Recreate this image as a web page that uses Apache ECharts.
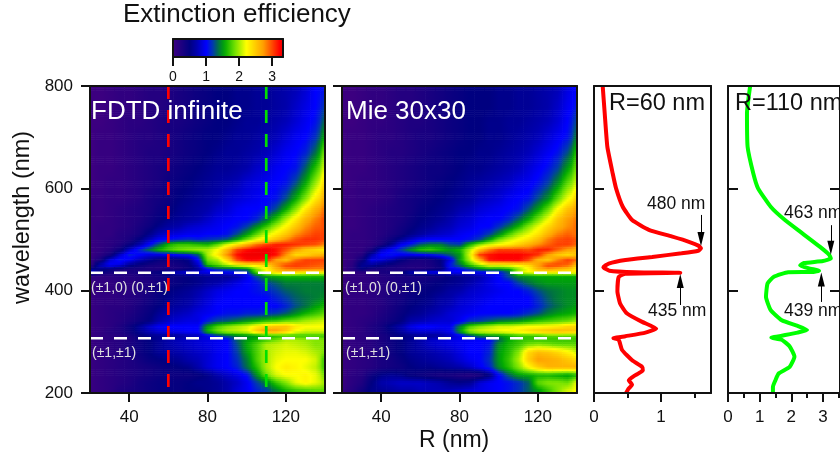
<!DOCTYPE html>
<html><head><meta charset="utf-8">
<style>html,body{margin:0;padding:0;background:#fff;overflow:hidden}#c{width:840px;height:459px}</style>
<script src="https://cdn.jsdelivr.net/npm/echarts@6/dist/echarts.min.js"></script></head>
<body><div id="c"></div>
<script>
const radii=[20,25,30,35,40,45,50,55,60,65,70,75,80,85,90,95,100,105,110,115,120,125,130,135,140];
const wavelengths=[790,760,730,700,670,640,610,580,560,540,525,510,500,490,480,470,460,450,442,436,428,415,400,385,370,355,340,330,320,312,304,295,280,265,250,235,220,205];
const fdtdRows=[
[0,0,.05,.1,.1,.15,.2,.2,.25,.3,.35,.4,.45,.5,.5,.55,.55,.6,.6,.65,.7,.75,.85,1,1.05],
[0,0,.05,.1,.1,.15,.2,.2,.25,.3,.35,.4,.45,.5,.5,.55,.55,.6,.6,.65,.7,.8,.9,1,1.15],
[0,0,.05,.1,.15,.15,.2,.25,.3,.3,.35,.4,.45,.5,.5,.55,.6,.6,.65,.7,.75,.85,.95,1.05,1.3],
[0,.05,.05,.1,.15,.2,.2,.25,.3,.35,.4,.45,.5,.5,.55,.6,.6,.65,.7,.75,.85,.95,1,1.15,1.5],
[0,.05,.05,.1,.15,.2,.25,.25,.3,.35,.4,.45,.5,.55,.6,.6,.65,.7,.75,.85,.95,1,1.1,1.35,1.8],
[0,.05,.05,.1,.15,.2,.25,.3,.35,.4,.45,.5,.55,.6,.6,.65,.7,.8,.85,.95,1,1.05,1.3,1.65,2.05],
[0,.05,.1,.1,.15,.2,.25,.3,.4,.45,.5,.55,.6,.65,.7,.75,.85,.9,.95,1,1.05,1.25,1.55,1.95,2.35],
[.05,.05,.1,.1,.15,.2,.3,.35,.4,.5,.55,.6,.65,.7,.8,.85,.9,.95,1,1.05,1.25,1.55,1.9,2.3,2.6],
[.05,.05,.1,.15,.2,.25,.3,.4,.45,.55,.6,.65,.7,.8,.85,.95,1,1,1.05,1.25,1.55,1.9,2.3,2.6,2.8],
[.05,.05,.1,.15,.2,.25,.35,.45,.55,.6,.65,.7,.8,.9,.95,1,1,1.1,1.35,1.65,2,2.3,2.6,2.8,2.95],
[.05,.1,.1,.15,.2,.3,.4,.55,.65,.7,.8,.85,.9,.95,1,1.05,1.2,1.45,1.7,2,2.25,2.5,2.75,2.9,2.95],
[.05,.1,.1,.2,.25,.35,.55,.75,.85,.9,.95,.95,1,1,1.05,1.25,1.5,1.8,2.1,2.3,2.5,2.75,2.9,3,3],
[.05,.1,.15,.2,.3,.5,.75,.95,1.05,1.1,1.15,1.1,1.15,1.2,1.3,1.55,1.85,2.15,2.35,2.55,2.75,2.95,3.05,3.05,3],
[.05,.1,.15,.25,.45,.7,1,1.3,1.6,1.7,1.7,1.65,1.6,1.8,2.1,2.35,2.6,2.85,3,3.1,3.1,3.05,3,2.95,2.8],
[.05,.1,.2,.4,.8,1.1,1.35,1.6,1.75,1.85,1.9,1.95,2,2.2,2.6,3,3.15,3.25,3.3,3.15,2.95,2.7,2.5,2.4,2.3],
[.05,.15,.35,.8,1.1,1,.9,.9,.95,1.05,1.1,1.3,2,2.3,2.75,3.15,3.3,3.3,3.3,3.15,2.75,2.4,2.45,2.55,2.6],
[.1,.3,.85,1.05,.95,.75,.6,.45,.4,.45,.55,1,1.85,2,2.45,3,3.2,3.2,3.1,2.7,2.55,2.85,3,3,3],
[.2,.75,1,.9,.6,.45,.35,.3,.3,.35,.45,.8,1.65,1.8,2,2.2,2.3,2.35,2.4,2.75,3,3.05,3,2.95,2.9],
[.55,.55,.45,.35,.3,.3,.25,.25,.25,.3,.4,.6,1,1.2,1.25,1.3,1.4,1.9,2.2,2.6,2.8,2.85,2.85,2.8,2.8],
[.9,.5,.35,.3,.3,.35,.4,.5,.75,.85,.9,.9,.95,1,1,1.05,1.15,1.8,2.2,2.4,2.5,2.4,2.3,2.3,2.3],
[.1,.1,.15,.2,.2,.25,.3,.35,.4,.45,.5,.55,.6,.6,.6,.7,.9,1.25,1.5,1.55,1.6,1.6,1.6,1.6,1.6],
[.05,.1,.1,.15,.15,.2,.25,.35,.4,.45,.5,.55,.65,.7,.8,.9,1,1.05,1.2,1.3,1.4,1.4,1.4,1.4,1.4],
[.05,.1,.1,.15,.15,.25,.3,.4,.5,.55,.6,.7,.8,.9,.95,1,1,1.05,1.1,1.2,1.3,1.35,1.4,1.4,1.4],
[.05,.1,.1,.15,.2,.25,.35,.45,.55,.6,.65,.75,.85,.95,1,1,1,1,1,1.1,1.2,1.3,1.35,1.4,1.45],
[.05,.1,.15,.15,.2,.3,.4,.5,.6,.65,.7,.8,.9,1,1,1,1,1,1,1,1.1,1.25,1.35,1.5,1.6],
[.05,.1,.15,.2,.25,.35,.45,.6,.7,.75,.8,.9,.95,1,1.05,1.05,1.1,1.1,1.15,1.2,1.3,1.45,1.6,1.7,1.8],
[.05,.1,.15,.2,.3,.4,.5,.7,.8,.85,.9,.9,1.1,1.25,1.3,1.4,1.5,1.6,1.7,1.75,1.85,1.9,2,2.05,2.1],
[.05,.1,.15,.25,.4,.6,.8,.95,1,1,1,1,1.5,1.75,1.9,2,2.1,2.3,2.45,2.5,2.5,2.3,2.2,2.2,2.2],
[.05,.1,.2,.25,.4,.6,.75,.85,.9,.95,1,1,1.6,1.85,2,2.05,2.15,2.5,2.75,2.7,2.5,2.2,2.1,2.1,2.1],
[.05,.1,.15,.2,.3,.45,.55,.6,.6,.65,.7,.75,.95,1.15,1.3,1.4,1.45,1.5,1.6,1.65,1.7,1.7,1.7,1.7,1.7],
[.05,.1,.15,.2,.25,.4,.5,.6,.7,.75,.8,.85,.9,.95,1,1.3,1.5,1.6,1.7,1.85,2,2,1.95,1.9,1.9],
[.05,.1,.15,.2,.3,.4,.5,.6,.7,.75,.8,.85,.9,.95,1,1.25,1.55,1.75,2,2.05,2.1,2.05,2,1.9,1.9],
[.05,.1,.15,.2,.3,.4,.5,.6,.65,.7,.75,.8,.85,.95,1,1.2,1.5,1.75,2,2.1,2.15,2.15,2.1,2,1.9],
[.05,.1,.15,.2,.25,.35,.45,.5,.55,.6,.7,.75,.85,.95,1,1.15,1.4,1.75,2,2.15,2.2,2.2,2.2,2.1,1.75],
[.05,.1,.15,.2,.25,.3,.35,.4,.45,.5,.55,.7,.85,.95,1,1.1,1.35,1.65,2,2.2,2.3,2.25,2.15,2.05,1.75],
[.05,.1,.15,.2,.25,.3,.35,.4,.4,.4,.4,.45,.55,.7,.8,.9,1.05,1.45,1.85,2.1,2.2,2.2,2.25,2.15,1.9],
[.05,.1,.15,.2,.25,.35,.4,.45,.45,.45,.5,.55,.55,.6,.7,.8,.95,1.2,1.4,1.7,1.9,2.15,2.25,2.15,2],
[.05,.1,.15,.25,.3,.35,.4,.45,.45,.45,.5,.5,.55,.6,.7,.85,.95,1.1,1.2,1.4,1.6,1.7,1.75,1.8,1.8]
];
const mieRows=[
[0,0,.05,.1,.1,.15,.2,.2,.25,.3,.35,.4,.45,.5,.5,.5,.55,.55,.6,.6,.65,.7,.75,.9,1],
[0,0,.05,.1,.1,.15,.2,.2,.25,.3,.35,.4,.45,.5,.5,.5,.55,.55,.6,.6,.65,.7,.8,.95,1.05],
[0,0,.05,.1,.1,.15,.2,.25,.25,.3,.35,.4,.45,.5,.5,.55,.55,.6,.6,.65,.7,.75,.85,1,1.2],
[0,.05,.05,.1,.15,.15,.2,.25,.3,.3,.35,.4,.45,.5,.5,.55,.55,.6,.65,.7,.75,.85,.95,1.05,1.35],
[0,.05,.05,.1,.15,.2,.2,.25,.3,.35,.4,.45,.5,.5,.55,.55,.6,.65,.7,.75,.85,.95,1.05,1.25,1.6],
[0,.05,.05,.1,.15,.2,.25,.3,.35,.4,.4,.45,.5,.55,.55,.6,.65,.7,.75,.85,.95,1.05,1.2,1.5,1.8],
[0,.05,.1,.1,.15,.2,.25,.3,.35,.4,.45,.5,.55,.6,.65,.7,.75,.8,.9,.95,1.05,1.2,1.45,1.8,2.05],
[.05,.05,.1,.1,.15,.2,.3,.35,.4,.45,.5,.55,.6,.65,.75,.8,.85,.95,1,1.05,1.25,1.45,1.8,2.15,2.4],
[.05,.05,.1,.15,.2,.25,.3,.35,.45,.5,.55,.6,.7,.75,.85,.9,.95,1,1.05,1.25,1.5,1.8,2.2,2.5,2.65],
[.05,.05,.1,.15,.2,.25,.3,.4,.5,.55,.6,.7,.8,.85,.95,1,1,1.1,1.3,1.55,1.85,2.15,2.5,2.7,2.8],
[.05,.05,.1,.15,.2,.25,.35,.45,.55,.6,.7,.75,.85,.9,1,1,1.15,1.35,1.6,1.9,2.15,2.4,2.6,2.75,2.85],
[.05,.1,.1,.15,.2,.3,.4,.55,.65,.75,.8,.85,.95,1,1.05,1.2,1.45,1.75,2,2.15,2.35,2.6,2.8,2.9,2.85],
[.05,.1,.1,.15,.25,.4,.6,.8,.95,1,1,1,1,1.05,1.2,1.5,1.85,2.05,2.2,2.35,2.55,2.8,2.95,3,2.95],
[.05,.1,.1,.15,.3,.6,.95,1.1,1.3,1.4,1.4,1.25,1.2,1.6,1.9,2.1,2.2,2.3,2.45,2.6,2.75,2.9,3,3,2.9],
[.05,.1,.1,.3,.8,1,1.2,1.45,1.65,1.7,1.6,1.5,1.6,2,2.5,2.8,3,3,3,2.95,3.1,3.1,2.9,2.7,2.6],
[.05,.1,.2,.7,1,1.05,.95,.95,1,1.05,1.15,1.3,1.5,2.1,3,3.15,3.2,3.2,3.2,3.15,3.05,2.7,2.5,2.4,2.5],
[.05,.1,.4,.9,.85,.7,.5,.35,.3,.35,.5,.9,1.5,2,2.6,3.15,3.2,3.2,3.2,3,2.6,2.5,2.8,3,2.9],
[.05,.15,.6,.65,.5,.4,.3,.25,.25,.3,.45,1.1,1.35,1.7,1.95,2.2,2.2,2.25,2.3,2.4,2.7,3,3,2.9,2.6],
[.05,.2,.5,.3,.3,.25,.25,.2,.2,.3,.4,.9,1,1.2,1.4,1.5,1.5,1.6,1.9,2.2,2.6,2.7,2.6,2.5,2.3],
[.05,.1,.15,.2,.3,.35,.4,.8,.9,1,1,1,1,1,1,1,1.05,1.3,2.1,2.2,2.3,2.3,2.3,2.3,2.3],
[.05,.1,.1,.15,.2,.25,.3,.3,.3,.35,.4,.5,.55,.6,.7,.85,1,1.25,1.45,1.5,1.55,1.55,1.55,1.55,1.55],
[.05,.1,.1,.15,.2,.25,.3,.35,.4,.45,.5,.55,.6,.7,.8,.9,1,1,1.2,1.35,1.45,1.5,1.5,1.5,1.5],
[.05,.1,.1,.15,.2,.25,.3,.4,.45,.5,.55,.65,.7,.8,.85,.9,.95,1,1,1.1,1.25,1.35,1.4,1.45,1.45],
[.05,.1,.1,.15,.2,.3,.35,.45,.5,.55,.65,.7,.8,.85,.9,.95,1,1,1,1,1.15,1.3,1.4,1.45,1.45],
[.05,.1,.1,.15,.2,.3,.4,.5,.55,.6,.7,.75,.85,.9,.95,1,1,1,1,1,1.1,1.25,1.35,1.45,1.5],
[.05,.1,.1,.15,.25,.35,.45,.55,.6,.7,.75,.85,.9,.95,1,1,1,1,1.05,1.15,1.25,1.4,1.5,1.55,1.6],
[.05,.1,.15,.2,.3,.4,.5,.7,.75,.8,.85,.85,.95,1.15,1.2,1.3,1.4,1.45,1.5,1.6,1.7,1.75,1.8,1.85,1.95],
[.05,.1,.15,.25,.35,.55,.7,.9,1,1,.95,.95,1.4,1.75,1.9,2,2.1,2.1,2.15,2.2,2.2,2.25,2.3,2.4,2.4],
[.05,.1,.15,.25,.35,.5,.65,.8,.85,.85,.85,.95,1.5,1.95,2.1,2.15,2.2,2.25,2.3,2.4,2.5,2.55,2.6,2.55,2.5],
[.05,.1,.15,.2,.3,.4,.5,.55,.6,.6,.65,.75,.95,1.2,1.4,1.5,1.5,1.6,1.7,1.7,1.7,1.8,1.8,1.8,1.8],
[.05,.1,.15,.2,.3,.4,.5,.6,.7,.8,.85,.9,.95,.95,1,1,1.3,1.55,1.65,1.7,1.7,1.7,1.7,1.7,1.7],
[.05,.1,.15,.2,.3,.4,.5,.6,.7,.8,.85,.9,.95,1,1,1.05,1.45,1.6,1.7,1.85,1.9,1.85,1.8,1.8,1.8],
[.05,.1,.15,.2,.3,.4,.5,.6,.65,.7,.75,.8,.9,1,1,1.1,1.5,1.65,1.9,2.4,2.55,2.5,2.4,2.25,2.1],
[.05,.1,.15,.2,.3,.35,.45,.55,.6,.65,.7,.75,.85,.95,1,1.15,1.5,1.7,2,2.45,2.7,2.65,2.6,2.5,2.4],
[.05,.1,.15,.2,.3,.35,.4,.5,.55,.55,.6,.65,.7,.8,.95,1.1,1.45,1.65,1.9,2.2,2.45,2.6,2.6,2.6,2.6],
[.05,.15,.2,.4,.55,.6,.55,.45,.4,.35,.3,.3,.25,.2,.25,.5,1,1.3,1.5,1.55,1.6,1.6,1.55,1.5,1.6],
[.05,.15,.25,.5,.7,.75,.8,.8,.8,.75,.7,.6,.55,.6,.85,.95,1,1.05,1.15,1.3,1.8,1.9,1.9,1.85,2.1],
[.1,.2,.35,.55,.6,.65,.7,.7,.75,.75,.75,.75,.8,.85,.9,.95,1,1.05,1.15,1.3,1.5,1.7,1.9,2.1,2.2]
];
const red60=[[.13,800],[.16,747],[.2,681],[.28,629],[.33,600],[.43,564],[.57,538],[.82,519],[1.16,506],[1.41,496],[1.56,488],[1.6,483],[1.56,478],[1.31,473],[.87,466],[.47,460],[.22,453],[.14,446],[.23,439],[.62,436],[1.29,435],[.47,433],[.37,427],[.35,399],[.39,375],[.49,356],[.72,339],[.93,326],[.77,318],[.47,311],[.29,307],[.37,304],[.42,284],[.57,264],[.72,251],[.73,244],[.62,235],[.52,225],[.57,216],[.52,209],[.48,200]];
const green110=[[.7,800],[.6,747],[.62,681],[.8,629],[.95,600],[1.35,564],[1.8,538],[2.35,512],[2.9,486],[3.2,470],[3.25,463],[3,458],[2.4,454],[2.28,449],[2.6,443],[2.88,439],[2.7,436.5],[1.9,436],[1.45,427],[1.25,414],[1.2,388],[1.35,362],[1.7,342],[2.2,331],[2.5,323],[2.2,318],[1.7,312],[1.37,308],[1.7,304],[1.95,291],[2.1,271],[1.95,251],[1.6,238],[1.5,225],[1.42,212],[1.42,200]];
const tickR=[40,80,120], tickWl=[200,400,600,800], tick60=[0,1], minor60=[.5,1.5], tick110=[0,1,2,3], minor110=[.5,1.5,2.5,3.5], tickBar=[0,1,2,3];
const paletteStops=[[0,[60,0,128]],[.5,[0,0,128]],[.7,[0,0,170]],[1,[0,0,255]],[1.2,[0,60,170]],[1.35,[0,110,70]],[1.55,[0,170,0]],[1.85,[110,225,0]],[2.2,[255,255,0]],[2.7,[255,160,0]],[3.2,[255,0,0]],[3.3,[240,0,0]]];
function pal(v){
  v=Math.max(0,Math.min(3.3,v));
  for(let i=1;i<paletteStops.length;i++){
    const a=paletteStops[i-1],b=paletteStops[i];
    if(v<=b[0]){const t=(v-a[0])/(b[0]-a[0]);
      return 'rgb('+a[1].map((c,k)=>Math.round(c+(b[1][k]-c)*t)).join(',')+')';}
  }
  return 'rgb(240,0,0)';
}
const chart=echarts.init(document.getElementById('c'),null,{renderer:'canvas'});
const bounds=wavelengths.map((w,i)=>[i===0?800:(w+wavelengths[i-1])/2, i===wavelengths.length-1?200:(w+wavelengths[i+1])/2]);
function cells(rows){const d=[];rows.forEach((r,j)=>r.forEach((v,i)=>d.push([radii[i],wavelengths[j],v,j,i])));return d;}
// paint only: shades a read cell towards its read neighbours, the table itself is unchanged
function shadeAt(rows,i,w){
  const last=wavelengths.length-1;
  if(w>=wavelengths[0])return rows[0][i];
  if(w<=wavelengths[last])return rows[last][i];
  for(let k=1;k<=last;k++){ if(w>=wavelengths[k]){const t=(wavelengths[k-1]-w)/(wavelengths[k-1]-wavelengths[k]);return rows[k-1][i]*(1-t)+rows[k][i]*t;} }
  return rows[last][i];
}
function heat(rows,ax){
  return {type:'custom',xAxisIndex:ax.x,yAxisIndex:ax.y,z:1,silent:true,clip:true,animation:false,
    encode:{x:0,y:1},data:cells(rows),
    renderItem:function(p,api){
      const j=api.value(3),i=api.value(4),R=api.value(0);
      const l=Math.max(20,R-2.5),r=Math.min(140,R+2.5);
      const a=api.coord([l,bounds[j][0]]),b=api.coord([r,bounds[j][1]]);
      const H=b[1]-a[1],n=Math.max(1,Math.round(H/2)),kids=[];
      for(let s=0;s<n;s++){
        const w=bounds[j][0]+(bounds[j][1]-bounds[j][0])*(s+.5)/n;
        const v=shadeAt(rows,i,w),L=i>0?shadeAt(rows,i-1,w):v,N=i<radii.length-1?shadeAt(rows,i+1,w):v;
        const fill=new echarts.graphic.LinearGradient(0,0,1,0,[
          {offset:0,color:pal((L+v)/2)},{offset:.25,color:pal((L+3*v)/4)},{offset:.5,color:pal(v)},
          {offset:.75,color:pal((N+3*v)/4)},{offset:1,color:pal((N+v)/2)}]);
        kids.push({type:'rect',shape:{x:a[0],y:a[1]+H*s/n,width:b[0]-a[0]+.6,height:H/n+.6},style:{fill:fill,stroke:null}});
      }
      return {type:'group',children:kids};
    }};
}
const black='#111';
function xAxis(grid,min,max,o){return Object.assign({type:'value',gridIndex:grid,min:min,max:max,position:'bottom',z:10,splitLine:{show:false},
  axisLine:{show:true,onZero:false,lineStyle:{color:black,width:2}},axisTick:{show:false},axisLabel:{show:false}},o||{});}
function yAxis(grid,min,max,o){return Object.assign({type:'value',gridIndex:grid,min:min,max:max,position:'left',z:10,splitLine:{show:false},
  axisLine:{show:true,onZero:false,lineStyle:{color:black,width:2}},axisTick:{show:false},axisLabel:{show:false}},o||{});}
const lab={show:true,color:'#111',fontSize:17,fontFamily:'Liberation Sans',margin:16};
function ticksOut(vals,len){return {show:true,customValues:vals,length:len||9,inside:false,lineStyle:{color:black,width:2}};}
function labels(vals){return Object.assign({},lab,{customValues:vals,showMinLabel:true,showMaxLabel:true});}
const grids=[
 {left:90,top:86,width:235,height:307},
 {left:342,top:86,width:235,height:307},
 {left:594,top:86,width:117,height:307},
 {left:728,top:86,width:118,height:307},
 {left:173,top:39,width:110,height:18}
];
const xAxes=[
 xAxis(0,20,140,{axisTick:ticksOut(tickR),axisLabel:labels(tickR)}),
 xAxis(0,20,140,{position:'top'}),
 xAxis(1,20,140,{axisTick:ticksOut(tickR),axisLabel:labels(tickR)}),
 xAxis(1,20,140,{position:'top'}),
 xAxis(2,0,1.75,{axisTick:ticksOut(tick60),axisLabel:labels(tick60)}),
 xAxis(2,0,1.75,{axisLine:{show:false},axisTick:ticksOut(minor60,5)}),
 xAxis(2,0,1.75,{position:'top'}),
 xAxis(3,0,3.54,{axisTick:ticksOut(tick110),axisLabel:labels(tick110)}),
 xAxis(3,0,3.54,{axisLine:{show:false},axisTick:ticksOut(minor110,5)}),
 xAxis(3,0,3.54,{position:'top'}),
 xAxis(4,0,3.33,{axisTick:ticksOut(tickBar,9),axisLabel:Object.assign(labels(tickBar),{fontSize:14,margin:13})}),
 xAxis(4,0,3.33,{position:'top'})
];
const yAxes=[
 yAxis(0,200,800,{interval:200,axisTick:ticksOut(tickWl),axisLabel:Object.assign(labels(tickWl),{margin:17})}),
 yAxis(0,200,800,{position:'right'}),
 yAxis(1,200,800,{interval:200,axisTick:ticksOut(tickWl)}),
 yAxis(1,200,800,{position:'right'}),
 yAxis(2,200,800,{axisTick:Object.assign(ticksOut(tickWl,10),{inside:true})}),
 yAxis(2,200,800,{position:'right'}),
 yAxis(3,200,800,{axisTick:Object.assign(ticksOut(tickWl,10),{inside:true})}),
 yAxis(3,200,800,{position:'right',axisTick:Object.assign(ticksOut(tickWl,10),{inside:true})}),
 yAxis(4,0,1,{}),
 yAxis(4,0,1,{position:'right'})
];
function dash(color,pts,xi,yi){return {type:'line',xAxisIndex:xi,yAxisIndex:yi,z:3,silent:true,symbol:'none',animation:false,data:pts,
  lineStyle:{color:color,width:2.7,type:[13,11]}};}
const head='path://M0 14L0 14M14 0L14 0M7 0L10.5 14L3.5 14Z';
function arrow(x,from,to){return [{coord:[x,from],symbol:'none'},{coord:[x,to],symbol:head}];}
function spectrum(color,data,xi,yi,arrows){return {type:'line',xAxisIndex:xi,yAxisIndex:yi,z:3,silent:true,symbol:'none',smooth:.15,animation:false,data:data,
  lineStyle:{color:color,width:4},
  markLine:{silent:true,animation:false,symbolSize:14,label:{show:false},lineStyle:{color:'#000',width:1,type:'solid'},data:arrows}};}
const barColors=[];for(let v=0;v<=33;v++)barColors.push(pal(v/10));
function txt(t,x,y,size,color,extra){return Object.assign({type:'text',z:20,silent:true,x:x,y:y,style:{text:t,fill:color,fontSize:size,fontFamily:'Liberation Sans',textVerticalAlign:'middle'}},extra||{});}
chart.setOption({
 animation:false,backgroundColor:'#fff',
 grid:grids,xAxis:xAxes,yAxis:yAxes,
 visualMap:{type:'continuous',show:true,orient:'horizontal',left:173,top:39,itemWidth:18,itemHeight:110,min:0,max:3.3,calculable:false,realtime:false,text:null,showLabel:false,
   seriesIndex:14,dimension:0,inRange:{color:barColors},padding:0},
 series:[
  heat(fdtdRows,{x:0,y:0}),
  heat(mieRows,{x:2,y:2}),
  dash('#ff0000',[[60,800],[60,200]],0,0),
  dash('#00e000',[[110,800],[110,200]],0,0),
  dash('#ffffff',[[20,435],[140,435]],0,0),
  dash('#ffffff',[[20,307],[140,307]],0,0),
  dash('#ffffff',[[20,435],[140,435]],2,2),
  dash('#ffffff',[[20,307],[140,307]],2,2),
  spectrum('#ff0000',red60,4,4,[arrow(1.6,548,501),arrow(1.29,372,419)]),
  spectrum('#00ff00',green110,7,6,[arrow(3.25,528,484),arrow(2.95,378,422)]),
  {type:'line',xAxisIndex:10,yAxisIndex:8,data:[],silent:true},{type:'line',xAxisIndex:1,yAxisIndex:1,data:[]},{type:'line',xAxisIndex:3,yAxisIndex:3,data:[]},{type:'line',xAxisIndex:5,yAxisIndex:4,data:[]},
  {type:'scatter',xAxisIndex:11,yAxisIndex:9,data:[],silent:true}
 ],
 graphic:[
  txt('Extinction efficiency',123,15,26,'#111'),
  txt('wavelength (nm)',23,217.5,23.4,'#111',{rotation:Math.PI/2,style:{text:'wavelength (nm)',fill:'#111',fontSize:23.4,fontFamily:'Liberation Sans',textAlign:'center',textVerticalAlign:'middle'}}),
  txt('FDTD infinite',91,112,26,'#fff'),
  txt('Mie 30x30',346,112,26,'#fff'),
  txt('(±1,0) (0,±1)',91,288,14,'#e0e0e0'),
  txt('(±1,±1)',92,353,14,'#e0e0e0'),
  txt('(±1,0) (0,±1)',345,288,14,'#e0e0e0'),
  txt('(±1,±1)',346,353,14,'#e0e0e0'),
  txt('R=60 nm',609,104,23.5,'#111'),
  txt('R=110 nm',735,104,23.5,'#111'),
  txt('480 nm',647,204,17.5,'#111'),
  txt('435 nm',648,311,17.5,'#111'),
  txt('463 nm',784,213,17.5,'#111'),
  txt('439 nm',784,311,17.5,'#111'),
  txt('R (nm)',419,441,23,'#111')
 ]
});
</script></body></html>
